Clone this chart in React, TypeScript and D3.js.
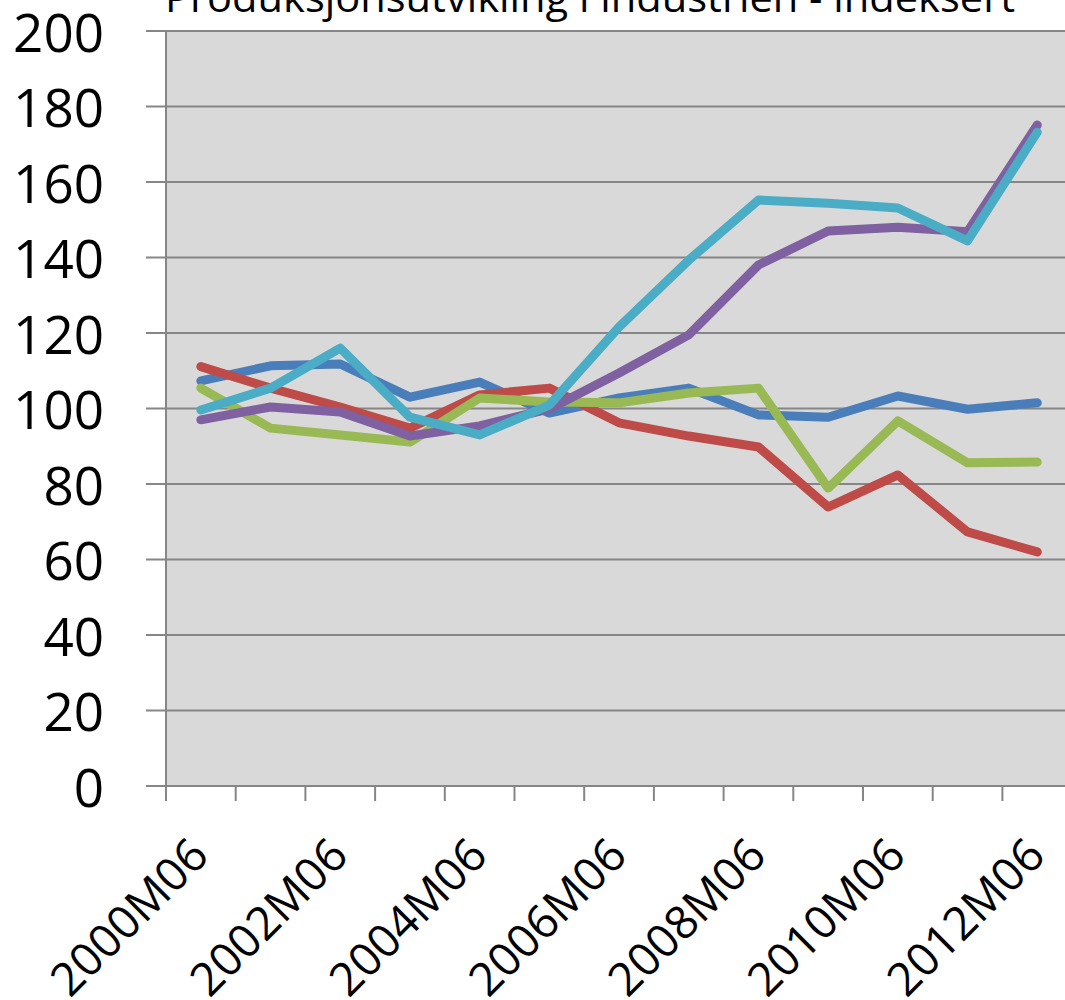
import React from "react"
import * as d3 from "d3"

const title = "Produksjonsutvikling i industrien - indeksert"

const periods = [
  "2000M06", "2001M06", "2002M06", "2003M06", "2004M06", "2005M06", "2006M06",
  "2007M06", "2008M06", "2009M06", "2010M06", "2011M06", "2012M06"
]

const yTicks = [0, 20, 40, 60, 80, 100, 120, 140, 160, 180, 200]

const blueSeries = [107.3, 111.3, 111.8, 103, 107, 98.8, 102.8, 105.4, 98.3, 97.7, 103.3, 99.8, 101.5]
const redSeries = [111.1, 105.4, 100.4, 94.8, 103.6, 105.4, 96.2, 92.7, 89.8, 73.9, 82.4, 67.3, 62]
const greenSeries = [105.4, 94.8, 93, 91.1, 102.8, 101.7, 101.5, 104.1, 105.4, 78.9, 96.7, 85.6, 85.8]
const purpleSeries = [97, 100.4, 99.1, 92.7, 95.4, 99.9, 109.4, 119.5, 138, 147, 148, 146.8, 175.1]
const cyanSeries = [99.6, 105.4, 116, 97.7, 93, 100.9, 121.6, 139.3, 155.2, 154.4, 153.1, 144.4, 173.2]

const series = [
  { name: "blue", values: blueSeries, color: "#4a7ebb" },
  { name: "red", values: redSeries, color: "#be4b48" },
  { name: "green", values: greenSeries, color: "#98b954" },
  { name: "purple", values: purpleSeries, color: "#7f60a1" },
  { name: "cyan", values: cyanSeries, color: "#4bacc6" }
]

export default function App() {
  const width = 1065
  const height = 1000
  const left = 166
  const top = 31
  const bottom = 786
  const step = 69.7

  const x = d3
    .scaleBand()
    .domain(periods)
    .range([left, left + periods.length * step])

  const y = d3.scaleLinear().domain([0, 200]).range([bottom, top])

  const line = d3
    .line<number>()
    .x((d, i) => x(periods[i])! + x.bandwidth() / 2)
    .y(d => y(d))

  const font = "'Open Sans', sans-serif"
  const gridColor = "#868686"

  return (
    <svg
      width={width}
      height={height}
      style={{ position: "absolute", left: 0, top: 0, background: "#fff" }}
    >
      {/* plot area */}
      <rect
        x={left}
        y={top}
        width={x.range()[1] - left}
        height={bottom - top}
        fill="#d9d9d9"
      />

      {/* horizontal grid + y ticks */}
      {yTicks.map(t => (
        <g key={t}>
          <line x1={146} x2={x.range()[1]} y1={y(t)} y2={y(t)} stroke={gridColor} strokeWidth={2} />
          <text
            x={104}
            y={y(t)}
            textAnchor="end"
            dominantBaseline="central"
            fontFamily={font}
            fontSize={53}
          >
            {t}
          </text>
        </g>
      ))}

      {/* left axis */}
      <line x1={left} x2={left} y1={top} y2={bottom + 15} stroke={gridColor} strokeWidth={2} />

      {/* x ticks at category boundaries */}
      {periods.map(p => (
        <line
          key={p}
          x1={x(p)! + x.bandwidth()}
          x2={x(p)! + x.bandwidth()}
          y1={bottom}
          y2={bottom + 15}
          stroke={gridColor}
          strokeWidth={2}
        />
      ))}

      {/* x labels every other period */}
      {periods.map((p, i) =>
        i % 2 === 0 ? (
          <text
            key={p}
            transform={`translate(${x(p)! + x.bandwidth() / 2 + 10}, 858) rotate(-45)`}
            textAnchor="end"
            fontFamily={font}
            fontSize={46}
          >
            {p}
          </text>
        ) : null
      )}

      {/* lines */}
      {series.map(s => (
        <path
          key={s.name}
          d={line(s.values)!}
          fill="none"
          stroke={s.color}
          strokeWidth={9}
          strokeLinecap="round"
          strokeLinejoin="round"
        />
      ))}

      {/* title, clipped by the top edge */}
      <text
        x={165}
        y={12}
        fontFamily={font}
        fontSize={40}
        textLength={850}
        lengthAdjust="spacingAndGlyphs"
      >
        {title}
      </text>
    </svg>
  )
}
